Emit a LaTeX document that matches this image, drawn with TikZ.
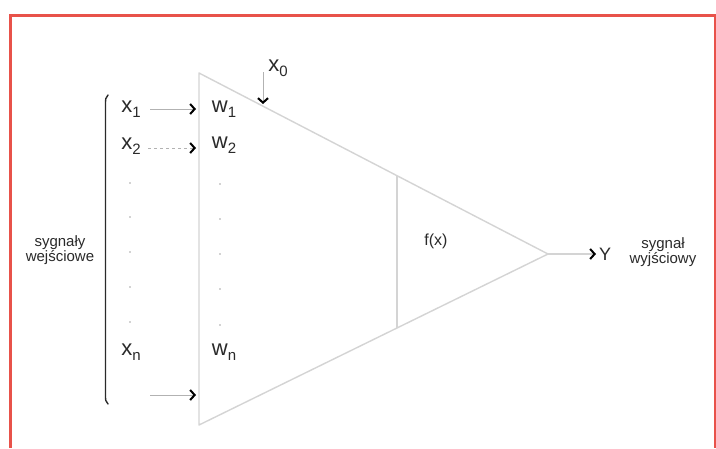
\documentclass[tikz,border=0pt]{standalone}
\usepackage{fontspec}
\setmainfont{Liberation Sans}
\usetikzlibrary{arrows.meta}
\definecolor{frame}{HTML}{E8524A}
\definecolor{tri}{HTML}{D4D4D4}
\definecolor{txt}{HTML}{2A2A2A}
\newcommand{\lsub}[1]{\raisebox{-5pt}{\fontsize{15}{15}\selectfont #1}}
\begin{document}
\begin{tikzpicture}[x=1pt,y=-1pt,
  lbl/.style={inner sep=0pt,text=txt,font=\fontsize{22}{22}\selectfont},
  small/.style={inner sep=0pt,text=txt,align=center,font=\fontsize{15}{13.5}\selectfont},
  dotn/.style={circle,fill=gray!70,inner sep=0pt,minimum size=1.8pt},
  sig/.style={draw=gray!60,line width=0.8pt,-{Straight Barb[length=4.5pt,width=10pt,line width=2pt,color=black]}},
  triline/.style={draw=tri,line width=1.4pt}]
\useasboundingbox (0,0) rectangle (716,448);
\fill[white] (0,0) rectangle (716,448);
% frame
\draw[frame,line width=3pt] (10,448) -- (10,15) -- (716,15);
\draw[frame,line width=2pt] (715,15) -- (715,448);
% triangle
\coordinate (tA) at (199,73);
\coordinate (tB) at (199,425);
\coordinate (tC) at (548,254);
\coordinate (vT) at (397,176);
\coordinate (vB) at (397,328);
\draw[triline,line join=round] (tA) -- (tC) -- (tB) -- cycle;
\draw[triline] (vT) -- (vB);
% inputs
\node[lbl] (x1) at (131,109) {x\lsub{1}};
\node[lbl] (x2) at (131,146) {x\lsub{2}};
\node[lbl] (xn) at (131,352) {x\lsub{n}};
\node[lbl] (w1) at (224,109) {w\lsub{1}};
\node[lbl] (w2) at (224,145) {w\lsub{2}};
\node[lbl] (wn) at (224,352) {w\lsub{n}};
\coordinate (a1s) at (150,109);
\coordinate (a1e) at (196,109);
\coordinate (a2s) at (148,148);
\coordinate (a2e) at (196,148);
\coordinate (a3s) at (150,395);
\coordinate (a3e) at (196,395);
\draw[sig] (a1s) -- (a1e);
\draw[sig,dashed] (a2s) -- (a2e);
\draw[sig] (a3s) -- (a3e);
% dots
\foreach \y [count=\i] in {183,217,252,287,322} {
  \node[dotn] (dx\i) at (130,\y) {};
}
\foreach \y [count=\i] in {184,219,254,289,325} {
  \node[dotn] (dw\i) at (220,\y) {};
}
% x0
\node[lbl] (x0) at (278,68) {x\lsub{0}};
\coordinate (x0s) at (263,72);
\coordinate (x0e) at (263,104);
\draw[sig] (x0s) -- (x0e);
% bracket
\draw[txt,line width=1.4pt,line cap=round] (108,95) .. controls (105.5,98) .. (105.5,106) -- (105.5,394) .. controls (105.5,401) .. (108,404);
\node[small] (inlbl) at (60,250) {sygnały\\wejściowe};
% f(x)
\node[lbl,font=\fontsize{16}{16}\selectfont] (fx) at (436,241) {f(x)};
% output
\coordinate (ys) at (548,254);
\coordinate (ye) at (596,254);
\draw[sig,draw=tri,line width=1.4pt] (ys) -- (ye);
\node[lbl,font=\fontsize{18}{18}\selectfont,anchor=west] (Y) at (599,254) {Y};
\node[small] (outlbl) at (663,252) {sygnał\\wyjściowy};
\end{tikzpicture}
\end{document}
